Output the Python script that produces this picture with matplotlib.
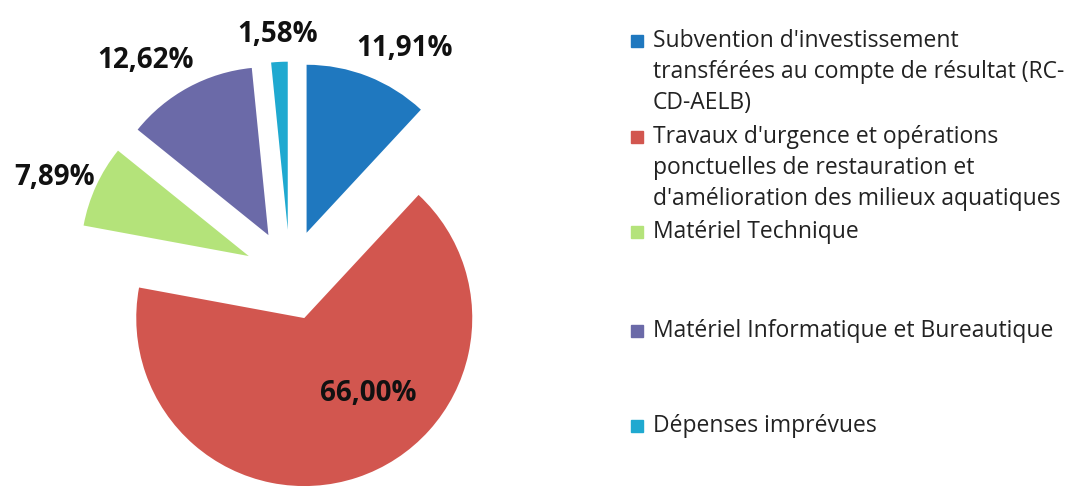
import numpy as np
import matplotlib.pyplot as plt
from matplotlib.patches import Rectangle

# Répartition des dépenses d'investissement
categories = [
    "Subvention d'investissement\ntransférées au compte de résultat (RC-\nCD-AELB)",
    "Travaux d'urgence et opérations\nponctuelles de restauration et\nd'amélioration des milieux aquatiques",
    "Matériel Technique",
    "Matériel Informatique et Bureautique",
    "Dépenses imprévues",
]
shares = [11.91, 66.00, 7.89, 12.62, 1.58]
colors = ["#1f78bf", "#d2564f", "#b4e37a", "#6b6aa8", "#1fa9d0"]

plt.rcParams['font.family'] = ['Open Sans', 'DejaVu Sans']

W, H, dpi = 1073, 489, 100
fig = plt.figure(figsize=(W / dpi, H / dpi), dpi=dpi)
ax = fig.add_axes([0, 0, 1, 1])

wedges, _ = ax.pie(shares, colors=colors, startangle=90, counterclock=False,
                   explode=[0.27] * len(shares), radius=1.0,
                   wedgeprops=dict(linewidth=0))

# pie centre and radius in pixels (set after pie, which resets limits)
cx, cy, rad = 290, 276, 168
ax.set_xlim(-cx / rad, (W - cx) / rad)
ax.set_ylim(-(H - cy) / rad, cy / rad)
ax.set_aspect('equal')
ax.axis('off')

# percentage labels (order: blue, red, green, purple, cyan)
label_dist = [1.25, 0.585, 1.25, 1.275, 1.17]
label_shift = [-6.5, 22, 2.5, 6.5, 0]
for w, v, d, s in zip(wedges, shares, label_dist, label_shift):
    ang = np.deg2rad((w.theta1 + w.theta2) / 2 + s)
    x = w.center[0] + d * np.cos(ang)
    y = w.center[1] + d * np.sin(ang)
    ax.text(x, y, f"{v:.2f}%".replace('.', ','), ha='center', va='center',
            fontsize=20, fontweight='bold', color='#111111')

# legend drawn by hand to keep Excel-like spacing
leg_top = [42, 138, 233, 332, 427]
for lab, col, yp in zip(categories, colors, leg_top):
    fig.patches.append(Rectangle((631 / W, 1 - (yp + 6) / H), 12 / W, 12 / H,
                                 transform=fig.transFigure, color=col))
    fig.text(653 / W, 1 - (yp - 13) / H, lab, ha='left', va='top',
             fontsize=16.5, color='#222222', linespacing=1.4)

fig.savefig('out.png', dpi=dpi)
